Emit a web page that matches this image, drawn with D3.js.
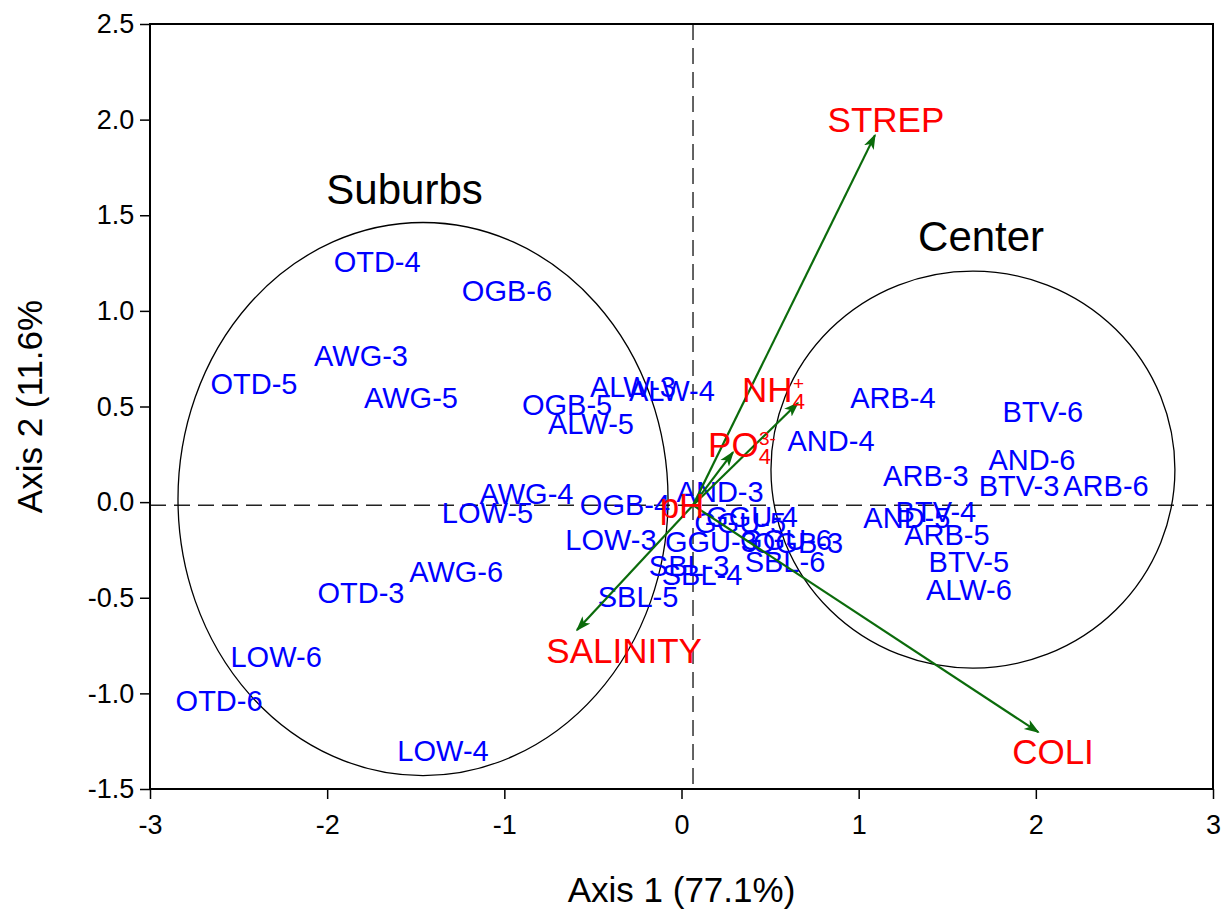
<!DOCTYPE html>
<html>
<head>
<meta charset="utf-8">
<script src="https://cdn.jsdelivr.net/npm/d3@7"></script>
<style>
  body { margin: 0; background: #fff; }
  text { font-family: "Liberation Sans", Arial, sans-serif; }
</style>
</head>
<body>
<div id="chart"></div>
<script>
// sample scores (text centre)
var siteNames = ["OTD-4","OGB-6","AWG-3","OTD-5","AWG-5","OGB-5","ALW-5","ALW-3","ALW-4","AWG-4","LOW-5","OGB-4",
  "LOW-3","AWG-6","OTD-3","LOW-6","OTD-6","LOW-4","SBL-5","SBL-3","SBL-4","SBL-6","AND-3","GGU-4","GGU-5","GGU-3",
  "GGU-6","OGB-3","AND-4","ARB-4","BTV-6","AND-6","BTV-3","ARB-6","ARB-3","BTV-4","AND-5","ARB-5","BTV-5","ALW-6"];
var axis1 = [-1.718,-0.985,-1.809,-2.413,-1.527,-0.646,-0.511,-0.274,-0.054,-0.875,-1.095,-0.319,
  -0.398,-1.272,-1.809,-2.288,-2.610,-1.346,-0.245,0.043,0.116,0.584,0.218,0.398,0.331,0.166,
  0.590,0.657,0.844,1.193,2.040,1.978,1.905,2.396,1.379,1.436,1.272,1.498,1.622,1.622];
var axis2 = [1.255,1.103,0.763,0.617,0.544,0.507,0.408,0.601,0.580,0.044,-0.055,-0.016,
  -0.199,-0.366,-0.476,-0.810,-1.041,-1.302,-0.497,-0.335,-0.382,-0.314,0.052,-0.078,-0.110,-0.209,
  -0.199,-0.215,0.319,0.544,0.471,0.220,0.084,0.084,0.136,-0.052,-0.084,-0.173,-0.314,-0.460];

// environmental vectors: arrow tips and label centres
var envNames = ["STREP","COLI","SALINITY","NH","PO","pH"];
var envSub = ["","","","4","4",""];
var envSup = ["","","","+","3-",""];
var tipX = [1.092, 2.014, -0.590, 0.657, 0.291, 0.065];
var tipY = [1.919, -1.203, -0.669, 0.518, 0.261, -0.016];
var lblX = [1.154, 2.097, -0.324, 0.483, 0.291, 0.003];
var lblY = [1.997, -1.307, -0.779, 0.586, 0.298, -0.021];
var origin = [0.065, -0.016];

// group ellipses
var groupNames = ["Suburbs","Center"];
var groupCx = [-1.459, 1.645];
var groupCy = [0.016, 0.170];
var groupRx = [1.383, 1.140];
var groupRy = [1.446, 1.038];
var groupLblX = [-1.563, 1.691];
var groupLblY = [1.637, 1.391];

var xTicks = [-3,-2,-1,0,1,2,3];
var yTicks = [-1.5,-1.0,-0.5,0.0,0.5,1.0,1.5,2.0,2.5];

var W = 1228, H = 912;
var m = {left: 150, top: 24, right: 15, bottom: 123};
var iw = W - m.left - m.right, ih = H - m.top - m.bottom;

var svg = d3.select("#chart").append("svg").attr("width", W).attr("height", H);
var x = d3.scaleLinear().domain([-3, 3]).range([m.left, m.left + iw]);
var y = d3.scaleLinear().domain([-1.5, 2.5]).range([m.top + ih, m.top]);
var fmtY = function(d) { return d.toFixed(1); };

svg.append("defs").append("marker")
    .attr("id", "arr").attr("viewBox", "0 0 10 10")
    .attr("refX", 9).attr("refY", 5)
    .attr("markerWidth", 7).attr("markerHeight", 7)
    .attr("markerUnits", "strokeWidth").attr("orient", "auto")
  .append("path").attr("d", "M0,1.5 L10,5 L0,8.5 L2.5,5 Z").attr("fill", "#0b6b0b");

// axes
var gx = svg.append("g").attr("transform", "translate(0," + (m.top + ih) + ")")
  .call(d3.axisBottom(x).tickValues(xTicks).tickFormat(function(d) { return String(d); }).tickSize(10).tickSizeOuter(0));
var gy = svg.append("g").attr("transform", "translate(" + m.left + ",0)")
  .call(d3.axisLeft(y).tickValues(yTicks).tickFormat(fmtY).tickSize(10).tickSizeOuter(0));
[gx, gy].forEach(function(g) {
  g.select(".domain").remove();
  g.selectAll("line").attr("stroke", "#000").attr("stroke-width", 1.5);
  g.selectAll("text").attr("font-size", 27).attr("fill", "#000")
    .attr("font-family", "'Liberation Sans', Arial, sans-serif");
});
gx.selectAll("text").attr("dy", "1.2em");
gy.selectAll("text").attr("dx", "-0.1em");

// zero lines through the vector origin
svg.append("line").attr("x1", x(origin[0])).attr("x2", x(origin[0]))
  .attr("y1", m.top).attr("y2", m.top + ih)
  .attr("stroke", "#222").attr("stroke-width", 1.4).attr("stroke-dasharray", "16,8");
svg.append("line").attr("x1", m.left).attr("x2", m.left + iw)
  .attr("y1", y(origin[1])).attr("y2", y(origin[1]))
  .attr("stroke", "#222").attr("stroke-width", 1.4).attr("stroke-dasharray", "16,8");

// ellipses
svg.selectAll(".grp").data(groupNames).enter().append("ellipse")
  .attr("class", "grp")
  .attr("cx", function(d, i) { return x(groupCx[i]); })
  .attr("cy", function(d, i) { return y(groupCy[i]); })
  .attr("rx", function(d, i) { return x(groupRx[i]) - x(0); })
  .attr("ry", function(d, i) { return y(0) - y(groupRy[i]); })
  .attr("fill", "none").attr("stroke", "#000").attr("stroke-width", 1.3);

svg.selectAll(".grplbl").data(groupNames).enter().append("text")
  .attr("class", "grplbl")
  .attr("x", function(d, i) { return x(groupLblX[i]); })
  .attr("y", function(d, i) { return y(groupLblY[i]); })
  .attr("dy", "0.35em").attr("text-anchor", "middle")
  .attr("font-size", 42).attr("fill", "#000")
  .text(function(d) { return d; });

// sample labels
svg.selectAll(".site").data(siteNames).enter().append("text")
  .attr("class", "site")
  .attr("x", function(d, i) { return x(axis1[i]); })
  .attr("y", function(d, i) { return y(axis2[i]); })
  .attr("dy", "0.35em").attr("text-anchor", "middle")
  .attr("font-size", 29).attr("fill", "#0000ff")
  .text(function(d) { return d; });

// vectors
svg.selectAll(".vec").data(envNames.filter(function(d, i) {
    return Math.abs(tipX[i] - origin[0]) + Math.abs(tipY[i] - origin[1]) > 0.01;
  })).enter().append("line")
  .attr("class", "vec")
  .attr("x1", x(origin[0])).attr("y1", y(origin[1]))
  .attr("x2", function(d) { return x(tipX[envNames.indexOf(d)]); })
  .attr("y2", function(d) { return y(tipY[envNames.indexOf(d)]); })
  .attr("stroke", "#0b6b0b").attr("stroke-width", 2.2)
  .attr("marker-end", "url(#arr)");

// vector labels with sub/superscripts
var env = svg.selectAll(".env").data(envNames).enter().append("text")
  .attr("class", "env")
  .attr("x", function(d, i) { return x(lblX[i]); })
  .attr("y", function(d, i) { return y(lblY[i]); })
  .attr("dy", "0.35em").attr("text-anchor", "middle")
  .attr("font-size", 35).attr("fill", "#ff0000");
env.append("tspan").text(function(d) { return d; });
env.each(function(d, i) {
  if (!envSub[i]) return;
  var t = d3.select(this).attr("text-anchor", "start")
    .attr("x", x(lblX[i]) - 25);
  t.append("tspan").attr("font-size", 22).attr("dy", "0.3em").text(envSub[i]);
  t.append("tspan").attr("font-size", 19).attr("dx", -12).attr("dy", "-1.0em").text(envSup[i]);
});

// frame
svg.append("rect").attr("x", m.left).attr("y", m.top).attr("width", iw).attr("height", ih)
  .attr("fill", "none").attr("stroke", "#000").attr("stroke-width", 2);

// axis titles
svg.append("text").attr("x", x(0)).attr("y", 890).attr("dy", "0.35em")
  .attr("text-anchor", "middle").attr("font-size", 35).text("Axis 1 (77.1%)");
svg.append("text").attr("transform", "translate(30," + y(0.5) + ") rotate(-90)")
  .attr("dy", "0.35em").attr("text-anchor", "middle").attr("font-size", 35).text("Axis 2 (11.6%");
</script>
</body>
</html>
